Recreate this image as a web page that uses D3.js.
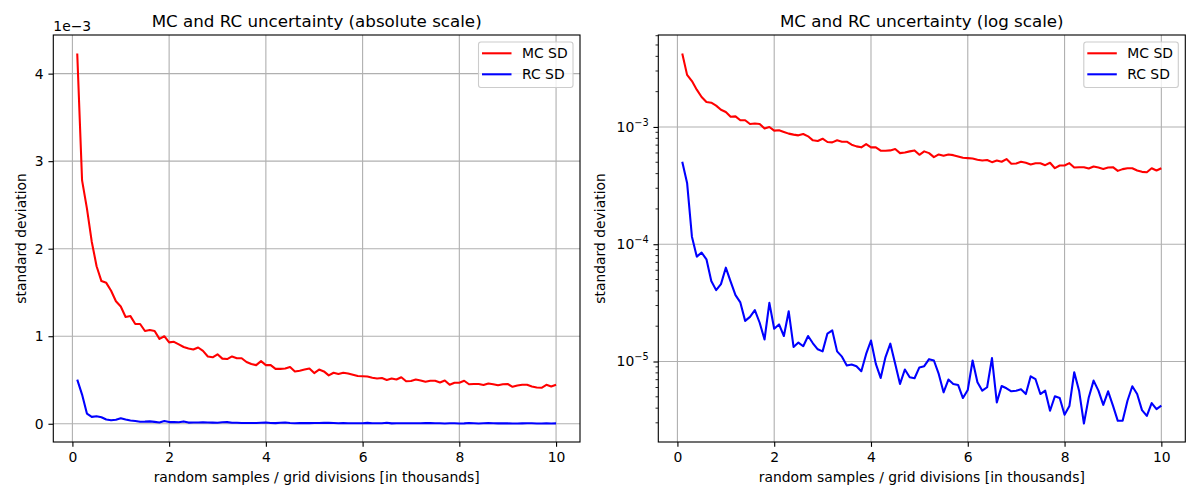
<!DOCTYPE html>
<html><head><meta charset="utf-8">
<script src="https://cdn.jsdelivr.net/npm/d3@7"></script>
<style>body{margin:0;background:#fff;} svg{font-family:"DejaVu Sans",sans-serif;}</style>
</head><body>
<svg id="c" width="1200" height="500"></svg>
<script>
const xThousands = [0.1,0.2,0.3,0.4,0.5,0.6,0.7,0.8,0.9,1.0,1.1,1.2,1.3,1.4,1.5,1.6,1.7,1.8,1.9,2.0,
2.1,2.2,2.3,2.4,2.5,2.6,2.7,2.8,2.9,3.0,3.1,3.2,3.3,3.4,3.5,3.6,3.7,3.8,3.9,4.0,
4.1,4.2,4.3,4.4,4.5,4.6,4.7,4.8,4.9,5.0,5.1,5.2,5.3,5.4,5.5,5.6,5.7,5.8,5.9,6.0,
6.1,6.2,6.3,6.4,6.5,6.6,6.7,6.8,6.9,7.0,7.1,7.2,7.3,7.4,7.5,7.6,7.7,7.8,7.9,8.0,
8.1,8.2,8.3,8.4,8.5,8.6,8.7,8.8,8.9,9.0,9.1,9.2,9.3,9.4,9.5,9.6,9.7,9.8,9.9,10.0];

// MC standard deviation (x 1e-3)
const mcSD_e3 = [4.23,2.78,2.46,2.08,1.80,1.63,1.61,1.52,1.40,1.34,1.22,1.23,1.14,1.14,1.06,1.07,1.06,0.97,1.00,0.93,
0.936,0.906,0.877,0.860,0.848,0.871,0.832,0.769,0.759,0.794,0.744,0.739,0.769,0.749,0.749,0.706,0.683,0.670,0.715,0.670,
0.670,0.627,0.627,0.631,0.648,0.598,0.606,0.619,0.631,0.579,0.619,0.598,0.553,0.583,0.568,0.583,0.575,0.561,0.546,0.542,
0.539,0.525,0.518,0.522,0.501,0.518,0.505,0.532,0.485,0.488,0.505,0.495,0.479,0.491,0.491,0.472,0.495,0.445,0.469,0.469,
0.491,0.451,0.454,0.454,0.442,0.460,0.451,0.439,0.451,0.454,0.422,0.437,0.445,0.445,0.425,0.414,0.411,0.445,0.425,0.445];

// RC standard deviation
const rcSD = [5.04e-4,3.33e-4,1.16e-4,7.84e-5,8.48e-5,7.44e-5,4.85e-5,4.06e-5,4.57e-5,6.31e-5,
4.79e-5,3.68e-5,3.19e-5,2.22e-5,2.40e-5,2.74e-5,2.14e-5,1.54e-5,3.16e-5,1.90e-5,
2.07e-5,1.65e-5,2.68e-5,1.33e-5,1.45e-5,1.35e-5,1.65e-5,1.43e-5,1.27e-5,1.22e-5,
1.73e-5,1.84e-5,1.22e-5,1.10e-5,9.25e-6,9.42e-6,9.12e-6,8.26e-6,1.16e-5,1.51e-5,
9.55e-6,7.24e-6,1.09e-5,1.42e-5,9.55e-6,6.44e-6,8.54e-6,7.34e-6,7.20e-6,8.90e-6,
9.12e-6,1.047e-5,1.02e-5,7.84e-6,5.46e-6,7.01e-6,6.44e-6,6.31e-6,4.88e-6,5.72e-6,
1.02e-5,6.65e-6,5.64e-6,6.03e-6,1.07e-5,4.48e-6,6.18e-6,5.91e-6,5.57e-6,5.64e-6,
5.79e-6,5.28e-6,7.48e-6,7.06e-6,5.28e-6,5.64e-6,3.80e-6,5.05e-6,4.88e-6,3.51e-6,
4.17e-6,8.10e-6,5.64e-6,2.96e-6,4.94e-6,6.87e-6,5.64e-6,4.27e-6,5.57e-6,4.20e-6,
3.12e-6,3.12e-6,4.63e-6,6.15e-6,5.28e-6,3.85e-6,3.44e-6,4.42e-6,3.92e-6,4.20e-6];

const xTicks = [0,2,4,6,8,10];
const yTicksAbs = [0,1,2,3,4];        // x 1e-3
const yTicksLog = [-5,-4,-3];         // exponents
const seriesNames = ["MC SD","RC SD"];
const seriesColors = ["#ff0000","#0000ff"];
const titles = ["MC and RC uncertainty (absolute scale)","MC and RC uncertainty (log scale)"];
const xLabel = "random samples / grid divisions [in thousands]";
const yLabel = "standard deviation";

const mcSD = mcSD_e3.map(v => v * 1e-3);
const svg = d3.select("#c");
const FS = 13.9, TS = 16.7;
const yTop = 35, yBot = 442;
const LW = 2.08, AW = 1.11;
const panels = [{left:53.3, right:580, log:false},{left:658.3, right:1185.3, log:true}];

function pad(lo, hi, f){ const d=(hi-lo)*f; return [lo-d, hi+d]; }
const xExt = d3.extent(xThousands);
const xDom = pad(xExt[0], xExt[1], 0.05);

panels.forEach((p, pi) => {
  const g = svg.append("g");
  const x = d3.scaleLinear().domain(xDom).range([p.left, p.right]);
  let y;
  const allV = mcSD.concat(rcSD);
  if (!p.log) {
    const e = d3.extent(allV);
    y = d3.scaleLinear().domain(pad(e[0], e[1], 0.05)).range([yBot, yTop]);
  } else {
    const e = d3.extent(allV).map(Math.log10);
    const d = pad(e[0], e[1], 0.05).map(v => Math.pow(10, v));
    y = d3.scaleLog().domain(d).range([yBot, yTop]);
  }
  const yMajor = p.log ? yTicksLog.map(k => Math.pow(10, k)) : yTicksAbs.map(v => v * 1e-3);

  // grid
  g.selectAll(".gx").data(xTicks).join("line")
    .attr("x1", d => x(d)).attr("x2", d => x(d)).attr("y1", yTop).attr("y2", yBot)
    .attr("stroke", "#b0b0b0").attr("stroke-width", AW);
  g.selectAll(".gy").data(yMajor).join("line")
    .attr("x1", p.left).attr("x2", p.right).attr("y1", d => y(d)).attr("y2", d => y(d))
    .attr("stroke", "#b0b0b0").attr("stroke-width", AW);

  // clip
  const cid = "clip" + pi;
  svg.append("clipPath").attr("id", cid).append("rect")
    .attr("x", p.left).attr("y", yTop).attr("width", p.right - p.left).attr("height", yBot - yTop);

  const line = d3.line().x((d, i) => x(xThousands[i])).y(d => y(d));
  [mcSD, rcSD].forEach((s, si) => {
    g.append("path").datum(s).attr("d", line).attr("fill", "none")
      .attr("stroke", seriesColors[si]).attr("stroke-width", LW)
      .attr("stroke-linejoin", "round").attr("stroke-linecap", "butt")
      .attr("clip-path", `url(#${cid})`);
  });

  // x axis
  const xa = g.append("g").attr("transform", `translate(0,${yBot})`)
    .call(d3.axisBottom(x).tickValues(xTicks).tickSize(4.86).tickPadding(4.86).tickFormat(d3.format("d")));
  // y axis
  let ya;
  if (!p.log) {
    ya = g.append("g").attr("transform", `translate(${p.left},0)`)
      .call(d3.axisLeft(y).tickValues(yMajor).tickSize(4.86).tickPadding(4.86).tickFormat(d => d3.format("d")(Math.round(d * 1e3))));
  } else {
    ya = g.append("g").attr("transform", `translate(${p.left},0)`)
      .call(d3.axisLeft(y).tickValues(yMajor).tickSize(4.86).tickPadding(4.86).tickFormat(""));
    const [d0, d1] = y.domain();
    const minors = [];
    for (let e = Math.floor(Math.log10(d0)); e <= Math.ceil(Math.log10(d1)); e++)
      for (let m = 2; m <= 9; m++) { const v = m * Math.pow(10, e); if (v >= d0 && v <= d1) minors.push(v); }
    g.selectAll(".mn").data(minors).join("line")
      .attr("x1", p.left).attr("x2", p.left - 2.78).attr("y1", d => y(d)).attr("y2", d => y(d))
      .attr("stroke", "#000").attr("stroke-width", 0.83);
    const lt = g.selectAll(".lt").data(yTicksLog).join("text")
      .attr("x", p.left - 9.7).attr("y", d => y(Math.pow(10, d)) + 5)
      .attr("text-anchor", "end").attr("font-size", FS).attr("fill", "#000");
    lt.append("tspan").text("10");
    lt.append("tspan").attr("dy", -6).attr("font-size", FS * 0.7).text(d => "\u2212" + Math.abs(d));
  }
  [xa, ya].forEach(a => {
    a.select(".domain").remove();
    a.selectAll(".tick line").attr("stroke", "#000").attr("stroke-width", AW);
    a.selectAll(".tick text").attr("font-size", FS).attr("fill", "#000").attr("font-family", "DejaVu Sans");
  });
  xa.selectAll(".tick text").attr("dy", "0.75em");

  // frame
  g.append("rect").attr("x", p.left).attr("y", yTop).attr("width", p.right - p.left).attr("height", yBot - yTop)
    .attr("fill", "none").attr("stroke", "#000").attr("stroke-width", AW);

  // title and labels
  const cx = (p.left + p.right) / 2;
  g.append("text").attr("x", cx).attr("y", 27).attr("text-anchor", "middle").attr("font-size", TS).text(titles[pi]);
  g.append("text").attr("x", cx).attr("y", 482).attr("text-anchor", "middle").attr("font-size", FS).text(xLabel);
  const ylx = p.log ? 605 : 26;
  g.append("text").attr("transform", `translate(${ylx},${(yTop + yBot) / 2}) rotate(-90)`)
    .attr("text-anchor", "middle").attr("font-size", FS).text(yLabel);
  if (!p.log) {
    g.append("text").attr("x", p.left).attr("y", 31).attr("font-size", FS).text("1e\u22123");
  }

  // legend
  const lw = 94.5, lh = 45.5;
  const lx = p.right - 7 - lw, ly = yTop + 7;
  const lg = g.append("g");
  lg.append("rect").attr("x", lx).attr("y", ly).attr("width", lw).attr("height", lh).attr("rx", 2.5)
    .attr("fill", "#fff").attr("fill-opacity", 0.8).attr("stroke", "#cccccc").attr("stroke-width", 1.1);
  seriesNames.forEach((n, i) => {
    const yy = ly + 11.3 + i * 21;
    lg.append("line").attr("x1", lx + 3.5).attr("x2", lx + 33).attr("y1", yy).attr("y2", yy)
      .attr("stroke", seriesColors[i]).attr("stroke-width", LW);
    lg.append("text").attr("x", lx + 43.5).attr("y", yy + 5).attr("font-size", FS).text(n);
  });
});
</script>
</body></html>
